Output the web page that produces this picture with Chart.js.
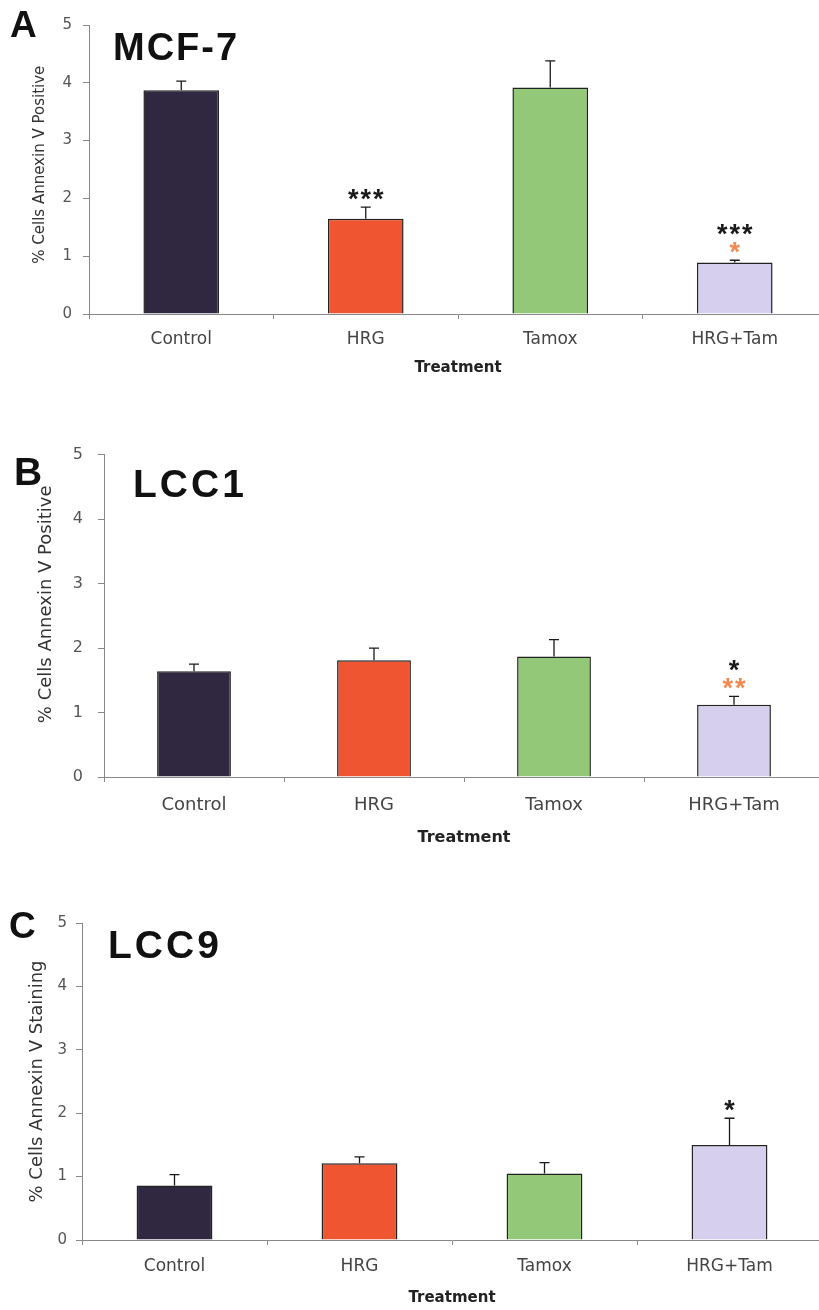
<!DOCTYPE html>
<html>
<head>
<meta charset="utf-8">
<script src="https://cdn.jsdelivr.net/npm/chart.js@4.4.0/dist/chart.umd.min.js"></script>
<style>
  html, body { margin: 0; padding: 0; background: #fff; overflow: hidden; }
  .panel { position: absolute; left: 0; width: 830px; }
</style>
</head>
<body>
<div class="panel" style="top:0px;height:380px"><canvas id="chartA"></canvas></div>
<div class="panel" style="top:430px;height:420px"><canvas id="chartB"></canvas></div>
<div class="panel" style="top:880px;height:430px"><canvas id="chartC"></canvas></div>
<script>
// data
const categories = ["Control", "HRG", "Tamox", "HRG+Tam"];
const yTickValues = [0, 1, 2, 3, 4, 5];
const barColors = ["#2f2840", "#ee5530", "#92c878", "#d6d0ee"];

const mcf7Means = [3.87, 1.65, 3.92, 0.89];
const mcf7Errors = [0.16, 0.20, 0.46, 0.04];
const mcf7Black = ["", "***", "", "***"];
const mcf7Orange = ["", "", "", "*"];

const lcc1Means = [1.64, 1.81, 1.87, 1.12];
const lcc1Errors = [0.11, 0.19, 0.26, 0.13];
const lcc1Black = ["", "", "", "*"];
const lcc1Orange = ["", "", "", "**"];

const lcc9Means = [0.86, 1.21, 1.05, 1.50];
const lcc9Errors = [0.17, 0.10, 0.17, 0.42];
const lcc9Black = ["", "", "", "*"];
const lcc9Orange = ["", "", "", ""];

// error bars, significance stars and panel headings
const annotate = {
  id: "annotate",
  afterDatasetsDraw(chart, args, o) {
    const ctx = chart.ctx;
    const y = chart.scales.y;
    const bars = chart.getDatasetMeta(0).data;
    ctx.save();
    bars.forEach((bar, i) => {
      const top = y.getPixelForValue(o.means[i] + o.errors[i]);
      ctx.strokeStyle = "#1a1a1a";
      ctx.lineWidth = 1.3;
      ctx.beginPath();
      ctx.moveTo(bar.x, bar.y);
      ctx.lineTo(bar.x, top);
      ctx.moveTo(bar.x - 5, top);
      ctx.lineTo(bar.x + 5, top);
      ctx.stroke();

      ctx.font = "bold 27px 'Liberation Sans', Arial";
      ctx.textAlign = "center";
      ctx.textBaseline = "alphabetic";
      ctx.letterSpacing = "2px";
      let row = top - 15;
      if (o.orange[i]) {
        ctx.fillStyle = "#f08a50";
        ctx.fillText(o.orange[i], bar.x + 1, row + 16);
        row -= 18;
      }
      if (o.black[i]) {
        ctx.fillStyle = "#1a1a1a";
        ctx.fillText(o.black[i], bar.x + 1, row + 16);
      }
    });
    ctx.letterSpacing = "0px";
    ctx.textAlign = "left";
    ctx.fillStyle = "#111";
    ctx.font = "bold " + o.letterSize + "px 'Liberation Sans', Arial";
    ctx.fillText(o.letter, o.letterX, o.letterY);
    ctx.font = "bold " + o.nameSize + "px 'Liberation Sans', Arial";
    ctx.letterSpacing = o.nameSpacing + "px";
    ctx.fillText(o.name, o.nameX, o.nameY);
    ctx.restore();
  }
};

function makePanel(id, means, errors, black, orange, yTitle, p) {
  new Chart(document.getElementById(id), {
    type: "bar",
    data: {
      labels: categories,
      datasets: [{
        data: means,
        backgroundColor: barColors,
        borderColor: "#222",
        borderWidth: 1.5,
        categoryPercentage: 1,
        barPercentage: 0.41
      }]
    },
    options: {
      responsive: true,
      maintainAspectRatio: false,
      animation: false,
      layout: { padding: { left: p.padLeft, top: p.padTop, right: p.padRight, bottom: 0 } },
      plugins: {
        legend: { display: false },
        tooltip: { enabled: false },
        annotate: Object.assign({ means, errors, black, orange }, p.heading)
      },
      scales: {
        x: {
          offset: true,
          grid: { offset: true, drawOnChartArea: false, tickLength: 5, color: "#888" },
          border: { color: "#888", width: 1 },
          ticks: { padding: p.xPad, color: "#444", font: { family: "DejaVu Sans", size: p.xFont } },
          title: {
            display: true, text: "Treatment", color: "#222",
            font: { family: "DejaVu Sans", size: p.tFont, weight: "bold" },
            padding: { top: 0, bottom: 3 }
          },
          afterFit(s) { s.height = p.xHeight; }
        },
        y: {
          min: 0,
          max: 5,
          afterBuildTicks(s) { s.ticks = yTickValues.map(v => ({ value: v })); },
          grid: { drawOnChartArea: false, tickLength: 6, color: "#888" },
          border: { color: "#888", width: 1 },
          ticks: { padding: p.yPad, color: "#555", font: { family: "DejaVu Sans", size: p.yFont } },
          title: {
            display: true, text: yTitle, color: "#333",
            font: { family: "DejaVu Sans", size: p.yTitleFont },
            padding: { top: 0, bottom: 0 }
          },
          afterFit(s) { s.width = p.yWidth; }
        }
      }
    },
    plugins: [annotate]
  });
}

makePanel("chartA", mcf7Means, mcf7Errors, mcf7Black, mcf7Orange, "  % Cells Annexin V Positive", {
  padLeft: 31, padTop: 25, padRight: 3, yWidth: 58, xHeight: 66,
  xPad: 10, xFont: 17, tFont: 15, yPad: 11, yFont: 15, yTitleFont: 15,
  heading: { letter: "A", letterSize: 37, letterX: 10, letterY: 37,
             name: "MCF-7", nameSize: 38, nameSpacing: 2, nameX: 113, nameY: 60 }
});

makePanel("chartB", lcc1Means, lcc1Errors, lcc1Black, lcc1Orange, "    % Cells Annexin V Positive", {
  padLeft: 36, padTop: 21, padRight: 6, yWidth: 68, xHeight: 73,
  xPad: 13, xFont: 18, tFont: 16, yPad: 15, yFont: 16, yTitleFont: 18,
  heading: { letter: "B", letterSize: 39, letterX: 14, letterY: 55,
             name: "LCC1", nameSize: 39, nameSpacing: 3, nameX: 133, nameY: 67 }
});

makePanel("chartC", lcc9Means, lcc9Errors, lcc9Black, lcc9Orange, "% Cells Annexin V Staining", {
  padLeft: 27, padTop: 43, padRight: 8, yWidth: 55, xHeight: 70,
  xPad: 11, xFont: 17, tFont: 15, yPad: 9, yFont: 15, yTitleFont: 18,
  heading: { letter: "C", letterSize: 37, letterX: 9, letterY: 58,
             name: "LCC9", nameSize: 39, nameSpacing: 3, nameX: 108, nameY: 78 }
});
</script>
</body>
</html>
